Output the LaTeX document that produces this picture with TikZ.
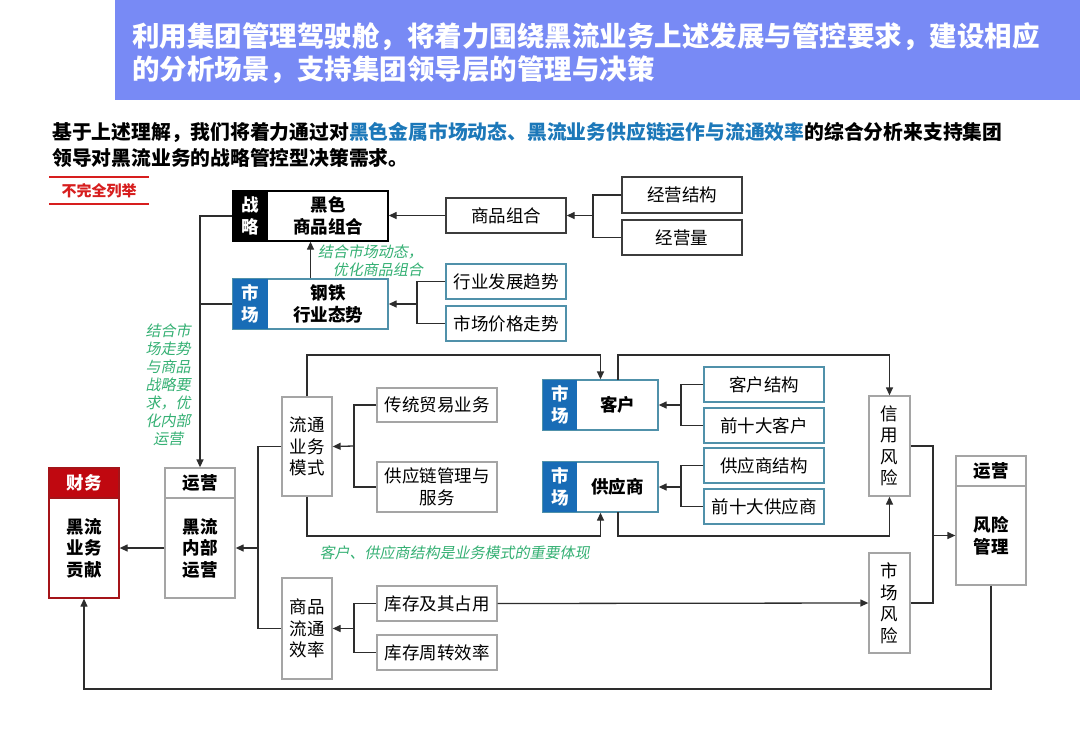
\documentclass[tikz,border=0pt]{standalone}
\usepackage{fontspec}
\setmainfont{Noto Sans CJK SC}
\newfontfamily\slfont[FakeSlant=0.2]{Noto Sans CJK SC}
\usetikzlibrary{arrows.meta}
\definecolor{hdr}{RGB}{120,138,245}
\definecolor{hl}{RGB}{28,120,185}
\definecolor{mkt}{RGB}{24,108,182}
\definecolor{tealb}{RGB}{80,145,170}
\definecolor{gry}{RGB}{165,165,165}
\definecolor{dk}{RGB}{60,60,60}
\definecolor{ln}{RGB}{45,45,45}
\definecolor{grn}{RGB}{52,176,115}
\definecolor{fin}{RGB}{192,8,16}
\definecolor{finb}{RGB}{165,20,25}
\definecolor{redt}{RGB}{215,30,30}
\begin{document}
\begin{tikzpicture}[x=1pt,y=-1pt,
  sz/.style 2 args={minimum width=#1pt, minimum height=#2pt},
  base/.style={inner sep=0pt, line width=1.3pt, align=center, font=\fontsize{17.5}{21.5}\selectfont},
  gbox/.style={base, draw=gry},
  dbox/.style={base, draw=dk},
  tbox/.style={base, draw=tealb},
  bbox/.style={base, font=\bfseries\fontsize{17.5}{21.5}\selectfont},
  lbl/.style={base, text=white, font=\bfseries\fontsize{17.5}{22}\selectfont},
  note/.style={inner sep=0pt, text=grn, font=\slfont\fontsize{15}{18}\selectfont},
  conn/.style={draw=ln, line width=1.3pt},
  arr/.style={conn, -{Triangle[length=8pt,width=7pt]}}
]
\useasboundingbox (0,0) rectangle (1080,748);
\fill[white] (0,0) rectangle (1080,748);

% header
\fill[hdr] (115,0) rectangle (1080,100);
\node[anchor=west, inner sep=0pt, text=white, align=left, font=\bfseries\fontsize{27.5}{33}\selectfont] (title) at (132,53.5)
 {利用集团管理驾驶舱，将着力围绕黑流业务上述发展与管控要求，建设相应\\的分析场景，支持集团领导层的管理与决策};

\node[anchor=west, inner sep=0pt, align=left, font=\bfseries\fontsize{19.8}{26}\selectfont] (intro) at (52,145)
 {基于上述理解，我们将着力通过对\textcolor{hl}{黑色金属市场动态、黑流业务供应链运作与流通效率}的综合分析来支持集团\\领导对黑流业务的战略管控型决策需求。};

\draw[redt, line width=1.5pt] (49,177) -- (149,177);
\draw[redt, line width=1.5pt] (49,204) -- (149,204);
\node[inner sep=0pt, text=redt, font=\bfseries\fontsize{15}{18}\selectfont] (nc) at (99,191) {不完全列举};

% strategy box
\node[base, draw=black, sz={155}{50}] (hs) at (310.5,216) {};
\node[lbl, fill=black, sz={35}{50}] (hsL) at (250.5,216) {战\\略};
\node[bbox] (hsT) at (328,216) {黑色\\商品组合};
% market box
\node[base, draw=tealb, sz={155}{50}] (gt) at (310.5,304) {};
\node[lbl, fill=mkt, sz={35}{50}] (gtL) at (250.5,304) {市\\场};
\node[bbox] (gtT) at (328,304) {钢铁\\行业态势};

\node[dbox, sz={120}{35}] (spzh) at (506,215.5) {商品组合};
\node[dbox, sz={120}{36}] (jyjg) at (682,195) {经营结构};
\node[dbox, sz={120}{35}] (jyl) at (682,237.5) {经营量};
\node[tbox, sz={120}{35}] (hyfz) at (506,281.5) {行业发展趋势};
\node[tbox, sz={120}{35}] (scjg) at (506,323.5) {市场价格走势};

% operations / finance
\node[gbox, sz={70}{30}, font=\bfseries\fontsize{17.5}{21.5}\selectfont] (yyH) at (200,483) {运营};
\node[gbox, sz={70}{100}, font=\bfseries\fontsize{17.5}{21.5}\selectfont] (yyB) at (200,548) {黑流\\内部\\运营};
\node[base, fill=fin, draw=finb, text=white, sz={70}{30}, font=\bfseries\fontsize{17.5}{21.5}\selectfont] (cwH) at (84,483) {财务};
\node[base, draw=finb, sz={70}{100}, font=\bfseries\fontsize{17.5}{21.5}\selectfont] (cwB) at (84,548) {黑流\\业务\\贡献};

% middle
\node[gbox, sz={50}{99}] (ltms) at (307,446.5) {流通\\业务\\模式};
\node[gbox, sz={120}{34}] (ctmy) at (437,405) {传统贸易业务};
\node[gbox, sz={120}{50}] (gyl) at (437,487) {供应链管理与\\服务};
\node[gbox, sz={50}{101}] (spltxl) at (307,628.5) {商品\\流通\\效率};
\node[gbox, sz={120}{35}] (kcjzy) at (437,603.5) {库存及其占用};
\node[gbox, sz={120}{35}] (kczz) at (437,652.5) {库存周转效率};

\node[base, draw=tealb, sz={115}{50}] (kh) at (600.5,405) {};
\node[lbl, fill=mkt, sz={34}{50}] (khL) at (560,405) {市\\场};
\node[bbox] (khT) at (617.5,405) {客户};
\node[base, draw=tealb, sz={115}{50}] (gys) at (600.5,487) {};
\node[lbl, fill=mkt, sz={34}{50}] (gysL) at (560,487) {市\\场};
\node[bbox] (gysT) at (617.5,487) {供应商};

\node[tbox, sz={120}{35}] (khjg) at (764,384.5) {客户结构};
\node[tbox, sz={120}{35}] (qsdkh) at (764,425.5) {前十大客户};
\node[tbox, sz={120}{35}] (gysjg) at (764,465.5) {供应商结构};
\node[tbox, sz={120}{35}] (qsdgys) at (764,506.5) {前十大供应商};

\node[gbox, sz={41}{100}] (xyfx) at (889.5,446) {信\\用\\风\\险};
\node[gbox, sz={41}{100}] (scfx) at (889.5,603) {市\\场\\风\\险};
\node[gbox, sz={70}{30}, font=\bfseries\fontsize{17.5}{21.5}\selectfont] (fxH) at (991,471) {运营};
\node[gbox, sz={70}{99}, font=\bfseries\fontsize{17.5}{21.5}\selectfont] (fxB) at (991,535.5) {风险\\管理};

% notes
\node[note, anchor=east, align=right] (n1) at (423,260.5) {结合市场动态，\\优化商品组合};
\node[note, align=center] (n2) at (168,385) {结合市\\场走势\\与商品\\战略要\\求，优\\化内部\\运营};
\node[note] (n3) at (454.5,553) {客户、供应商结构是业务模式的重要体现};

% coordinates
\coordinate (j1) at (593,215.5);
\coordinate (j2) at (417,304);
\coordinate (j4) at (258,548);
\coordinate (j5) at (354,446);
\coordinate (j5b) at (354,628.5);
\coordinate (j6) at (681,405);
\coordinate (j7) at (681,487);
\coordinate (j9) at (933,535.5);
\coordinate (khtop) at (618,380);
\coordinate (gysbot) at (618,512);

% connectors
\draw[arr] (spzh.west) -- (hs.east |- spzh.west);
\draw[conn] (jyjg.west) -| (j1) |- (jyl.west);
\draw[arr] (j1) -- (spzh.east);
\draw[conn] (hyfz.west) -| (j2) |- (scjg.west);
\draw[arr] (j2) -- (gt.east);
\draw[arr] (gt.north) -- (hs.south);
\draw[arr] (hs.west) -| (yyH.north);
\draw[conn] (gt.west) -- (gt.west -| yyH.north);

\draw[arr] (yyB.west) -- (cwB.east);
\draw[conn] (ltms.west) -| (j4) |- (spltxl.west);
\draw[arr] (j4) -- (yyB.east);

\draw[conn] (ctmy.west) -| (j5) |- (gyl.west);
\draw[arr] (j5) -- (ltms.east);
\draw[conn] (kcjzy.west) -| (j5b) |- (kczz.west);
\draw[arr] (j5b) -- (spltxl.east);

\draw[arr] (ltms.north) -- (ltms.north |- 0,355) -| (kh.north);
\draw[arr] (ltms.south) -- (ltms.south |- 0,536) -| (gys.south);

\draw[conn] (khjg.west) -| (j6) |- (qsdkh.west);
\draw[arr] (j6) -- (kh.east);
\draw[conn] (gysjg.west) -| (j7) |- (qsdgys.west);
\draw[arr] (j7) -- (gys.east);

\draw[arr] (khtop) -- (khtop |- 0,355) -| (xyfx.north);
\draw[arr] (gysbot) -- (gysbot |- 0,536) -| (xyfx.south);

\draw[arr] (kcjzy.east) -- (scfx.west);
\draw[conn] (xyfx.east) -| (j9);
\draw[conn] (scfx.east) -| (j9);
\draw[arr] (j9) -- (fxB.west);

\draw[arr] (fxB.south) -- (fxB.south |- 0,689) -| (cwB.south);
\end{tikzpicture}
\end{document}
